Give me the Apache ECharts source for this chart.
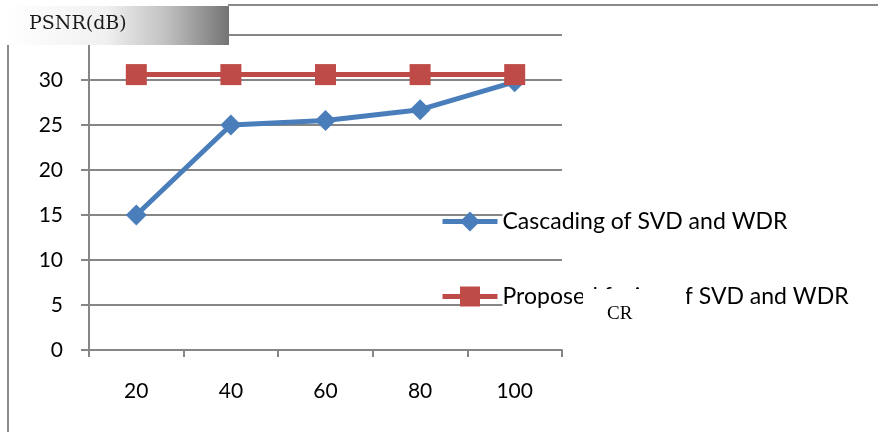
<!DOCTYPE html>
<html>
<head>
<meta charset="utf-8">
<script src="https://cdn.jsdelivr.net/npm/echarts@6/dist/echarts.min.js"></script>
<style>
html,body{margin:0;padding:0;background:#fff;}
#chart{width:878px;height:432px;}
</style>
</head>
<body>
<div id="chart"></div>
<script>
const categories = ['20', '40', '60', '80', '100'];
const cascadingValues = [15, 25, 25.5, 26.7, 29.8];
const proposedValues = [30.6, 30.6, 30.6, 30.6, 30.6];
const seriesNames = ['Cascading of SVD and WDR', 'Proposed fusion of SVD and WDR'];
const yAxisTitle = 'PSNR(dB)';
const xAxisTitle = 'CR';

const chart = echarts.init(document.getElementById('chart'), null, {renderer: 'canvas'});
const axisColor = '#868686';
const labelFont = 'Lato, "Open Sans", sans-serif';

chart.setOption({
  animation: false,
  backgroundColor: '#fff',
  grid: {left: 89, right: 316, top: 35, bottom: 82, containLabel: false},
  legend: {
    orient: 'vertical',
    left: 435,
    top: 205,
    itemWidth: 55,
    itemHeight: 25,
    itemGap: 52,
    lineStyle: {width: 5},
    textStyle: {fontFamily: labelFont, fontSize: 23, color: '#000', backgroundColor: '#fff', padding: [0, 2, 0, 0]},
    data: seriesNames
  },
  xAxis: {
    type: 'category',
    data: categories,
    boundaryGap: true,
    axisLine: {lineStyle: {color: axisColor, width: 2}},
    axisTick: {show: true, length: 7, lineStyle: {color: axisColor, width: 2}},
    axisLabel: {fontFamily: labelFont, fontSize: 21, color: '#000', margin: 31},
    splitLine: {show: false}
  },
  yAxis: {
    type: 'value',
    min: 0,
    max: 35,
    interval: 5,
    axisLine: {show: true, lineStyle: {color: axisColor, width: 2}},
    axisTick: {show: true, length: 8, lineStyle: {color: axisColor, width: 2}},
    axisLabel: {
      fontFamily: labelFont, fontSize: 21, color: '#000', margin: 26,
      formatter: v => (v >= 35 ? '' : String(v))
    },
    splitLine: {show: true, lineStyle: {color: axisColor, width: 2}}
  },
  series: [
    {
      name: seriesNames[0],
      type: 'line',
      data: cascadingValues,
      symbol: 'diamond',
      symbolSize: 21,
      lineStyle: {color: '#4a7ebb', width: 5},
      itemStyle: {color: '#4a7ebb'},
      z: 2
    },
    {
      name: seriesNames[1],
      type: 'line',
      data: proposedValues,
      symbol: 'rect',
      symbolSize: 21,
      lineStyle: {color: '#be4b48', width: 5},
      itemStyle: {color: '#be4b48'},
      z: 3
    }
  ],
  graphic: [
    {type: 'line', z: 50, shape: {x1: 228, y1: 5, x2: 878, y2: 5}, style: {stroke: '#8a8a8a', lineWidth: 2}},
    {type: 'line', z: 50, shape: {x1: 8, y1: 44, x2: 8, y2: 432}, style: {stroke: '#8a8a8a', lineWidth: 2}},
    {
      type: 'rect', z: 60,
      shape: {x: 7, y: 6, width: 222, height: 39},
      style: {
        fill: new echarts.graphic.LinearGradient(0, 0, 1, 0, [
          {offset: 0, color: '#ffffff'},
          {offset: 0.45, color: '#f0f0f0'},
          {offset: 0.72, color: '#c0c0c0'},
          {offset: 1, color: '#747474'}
        ])
      }
    },
    {
      type: 'text', z: 61, left: 29, top: 15,
      style: {text: yAxisTitle, font: '19px "DejaVu Serif", "Liberation Serif", serif', fill: '#1a1a1a'}
    },
    {
      type: 'rect', z: 70,
      shape: {x: 583, y: 289, width: 103, height: 44},
      style: {fill: '#fff'}
    },
    {
      type: 'text', z: 71, left: 607, top: 305,
      style: {text: xAxisTitle, font: '19px "Liberation Serif", "DejaVu Serif", serif', fill: '#000'}
    }
  ]
});
</script>
</body>
</html>
